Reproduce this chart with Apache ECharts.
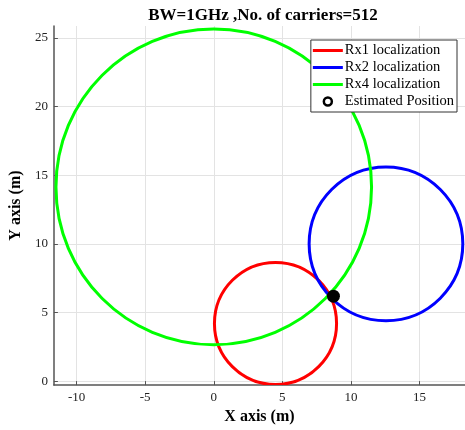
<!DOCTYPE html>
<html><head><meta charset="utf-8">
<script src="https://cdn.jsdelivr.net/npm/echarts@6/dist/echarts.min.js"></script>
<style>html,body{margin:0;padding:0;background:#fff}#c{width:465px;height:430px}</style>
</head><body><div id="c"></div>
<script>
// Circles: [centerX, centerY, radius]
const seriesNames = ['Rx1 localization', 'Rx2 localization', 'Rx4 localization', 'Estimated Position'];
const rx1Circle = [4.5, 4.2, 4.45];
const rx2Circle = [12.55, 10.0, 5.6];
const rx4Circle = [0.0, 14.15, 11.5];
const estimatedPos = [8.72, 6.19];
const xTicks = [-10, -5, 0, 5, 10, 15];
const yTicks = [0, 5, 10, 15, 20, 25];
const colors = ['#ff0000', '#0000ff', '#00ff00', '#000000'];

const FONT = 'Liberation Serif';
const chart = echarts.init(document.getElementById('c'));

function circleItem(params, api) {
  const c = api.coord([api.value(0), api.value(1)]);
  const rx = api.size([api.value(2), 0])[0];
  const ry = api.size([0, api.value(2)])[1];
  return {
    type: 'ellipse',
    shape: { cx: c[0], cy: c[1], rx: rx, ry: ry },
    style: { fill: 'none', stroke: api.visual('color'), lineWidth: 3 }
  };
}

const circles = [rx1Circle, rx2Circle, rx4Circle];
const series = circles.map((c, i) => ({
  name: seriesNames[i],
  type: 'custom',
  coordinateSystem: 'cartesian2d',
  renderItem: circleItem,
  clip: true,
  itemStyle: { color: colors[i] },
  encode: { x: 0, y: 1 },
  data: [c]
}));
series.push({
  name: seriesNames[3],
  type: 'scatter',
  symbol: 'circle',
  symbolSize: 13,
  itemStyle: { color: '#000', opacity: 1 },
  data: [estimatedPos],
  z: 5
});

const linePath = 'path://M0,0H30V3H0Z';
chart.setOption({
  animation: false,
  title: {
    text: 'BW=1GHz ,No. of carriers=512',
    left: 258, top: 2, textAlign: 'center',
    textStyle: { fontFamily: FONT, fontWeight: 'bold', fontSize: 17, color: '#000' }
  },
  grid: { left: 51.5, right: 0, top: 26, bottom: 37, containLabel: false },
  legend: {
    orient: 'vertical',
    right: 8, top: 40,
    itemWidth: 30, itemHeight: 8, itemGap: 2,
    padding: [3, 3, 3, 2],
    backgroundColor: '#fff',
    borderColor: '#333', borderWidth: 1,
    borderRadius: 0,
    textStyle: { fontFamily: FONT, fontSize: 14.5, color: '#000', padding: [0, 0, 0, -3] },
    data: [
      { name: seriesNames[0], icon: linePath },
      { name: seriesNames[1], icon: linePath },
      { name: seriesNames[2], icon: linePath },
      { name: seriesNames[3], icon: 'circle', itemStyle: { color: '#fff', borderColor: '#000', borderWidth: 2.5 } }
    ]
  },
  xAxis: {
    type: 'value', min: -11.65, max: 18.31, interval: 5,
    name: 'X axis (m)', nameLocation: 'middle', nameGap: 22,
    nameTextStyle: { fontFamily: FONT, fontWeight: 'bold', fontSize: 16, color: '#000' },
    axisLine: { show: true, onZero: false, lineStyle: { color: '#555', width: 1.5 } },
    axisTick: { show: true, inside: true, length: 4, lineStyle: { color: '#555' },
      customValues: xTicks },
    axisLabel: { fontFamily: FONT, fontSize: 13, color: '#222', margin: 6,
      customValues: xTicks, showMinLabel: true, showMaxLabel: true },
    splitLine: { show: true, lineStyle: { color: '#e3e3e3', width: 1 } }
  },
  yAxis: {
    type: 'value', min: -0.29, max: 25.87, interval: 5,
    name: 'Y axis (m)', nameLocation: 'middle', nameGap: 27,
    nameTextStyle: { fontFamily: FONT, fontWeight: 'bold', fontSize: 16, color: '#000' },
    axisLine: { show: true, onZero: false, lineStyle: { color: '#555', width: 1.5 } },
    axisTick: { show: true, inside: true, length: 4, lineStyle: { color: '#555' },
      customValues: yTicks },
    axisLabel: { fontFamily: FONT, fontSize: 13, color: '#222', margin: 6,
      customValues: yTicks },
    splitLine: { show: true, lineStyle: { color: '#e3e3e3', width: 1 } }
  },
  series: series
});
</script>
</body></html>
